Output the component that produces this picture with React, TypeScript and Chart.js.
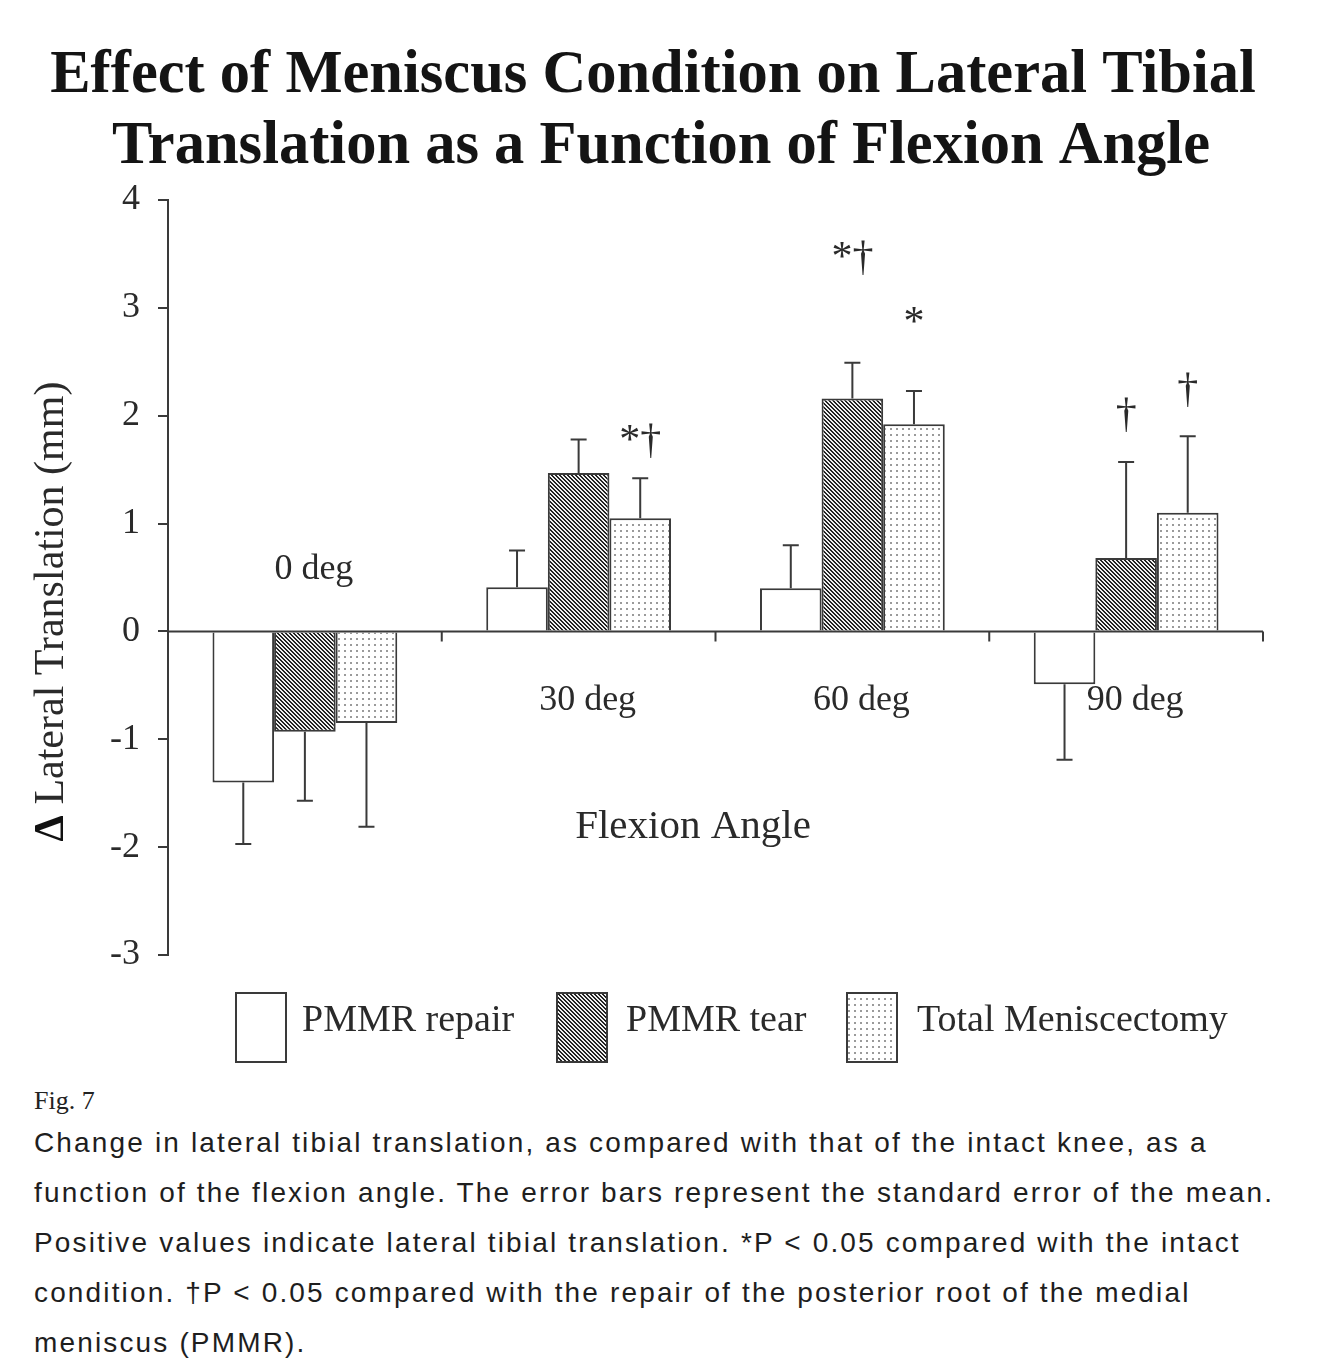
import React, { useEffect, useRef } from "react";
import { Chart, registerables } from "chart.js";

Chart.register(...registerables);

// ---------- data ----------
const CATEGORIES = ["0 deg", "30 deg", "60 deg", "90 deg"];
const SERIES_NAMES = ["PMMR repair", "PMMR tear", "Total Meniscectomy"];
const REPAIR = [-1.4, 0.41, 0.4, -0.49];
const TEAR = [-0.93, 1.47, 2.16, 0.68];
const TOTAL = [-0.85, 1.05, 1.92, 1.1];
const REPAIR_ERR = [0.57, 0.34, 0.4, 0.7];
const TEAR_ERR = [0.64, 0.31, 0.33, 0.89];
const TOTAL_ERR = [0.96, 0.37, 0.31, 0.71];
const Y_MIN = -3;
const Y_MAX = 4;
const Y_STEP = 1;
// significance marks: text, category index, series index, value (glyph centre)
const MARK_TEXT = ["*†", "*†", "*", "†", "†"];
const MARK_CATEGORY = [1, 2, 2, 3, 3];
const MARK_SERIES = [2, 1, 2, 1, 2];
const MARK_VALUE = [1.76, 3.45, 2.85, 2.0, 2.23];

const TITLE_LINES = [
  "Effect of Meniscus Condition on Lateral Tibial",
  "Translation as a Function of Flexion Angle",
];
const Y_TITLE_SYMBOL = "Δ";
const Y_TITLE = " Lateral Translation (mm)";
const X_TITLE = "Flexion Angle";
const FIG_LABEL = "Fig. 7";
const CAPTION_LINES = [
  "Change in lateral tibial translation, as compared with that of the intact knee, as a",
  "function of the flexion angle. The error bars represent the standard error of the mean.",
  "Positive values indicate lateral tibial translation. *P < 0.05 compared with the intact",
  "condition. †P < 0.05 compared with the repair of the posterior root of the medial",
  "meniscus (PMMR).",
];

const SERIF = '"Liberation Serif", "Times New Roman", serif';
const SANS = '"Liberation Sans", Arial, sans-serif';
const INK = "#2a2a2a";
const LINE = "#3a3a3a";

const W = 1323;
const H = 1080;

function makeHatch(ctx: CanvasRenderingContext2D): CanvasPattern {
  const c = document.createElement("canvas");
  c.width = 4;
  c.height = 4;
  const g = c.getContext("2d")!;
  const img = g.createImageData(4, 4);
  for (let y = 0; y < 4; y++) {
    for (let x = 0; x < 4; x++) {
      const on = (((x - y) % 4) + 4) % 4 < 2;
      const v = on ? 35 : 240;
      const k = (y * 4 + x) * 4;
      img.data[k] = v;
      img.data[k + 1] = v;
      img.data[k + 2] = v;
      img.data[k + 3] = 255;
    }
  }
  g.putImageData(img, 0, 0);
  return ctx.createPattern(c, "repeat")!;
}

function makeDots(ctx: CanvasRenderingContext2D): CanvasPattern {
  const c = document.createElement("canvas");
  c.width = 6;
  c.height = 6;
  const g = c.getContext("2d")!;
  g.fillStyle = "#ffffff";
  g.fillRect(0, 0, 6, 6);
  g.fillStyle = "#9a9a9a";
  g.fillRect(2, 2, 2, 2);
  return ctx.createPattern(c, "repeat")!;
}

export default function App() {
  const ref = useRef<HTMLCanvasElement | null>(null);

  useEffect(() => {
    const canvas = ref.current!;
    const ctx0 = canvas.getContext("2d")!;
    const hatch = makeHatch(ctx0);
    const dots = makeDots(ctx0);
    const fills = ["#ffffff", hatch, dots];
    const values = [REPAIR, TEAR, TOTAL];
    const errs = [REPAIR_ERR, TEAR_ERR, TOTAL_ERR];

    const decor = {
      id: "decor",
      afterDatasetsDraw(chart: any) {
        const ctx: CanvasRenderingContext2D = chart.ctx;
        const ys = chart.scales.y;
        const xs = chart.scales.x;
        const area = chart.chartArea;
        ctx.save();
        // error bars
        ctx.strokeStyle = LINE;
        ctx.lineWidth = 2;
        values.forEach((vals, di) => {
          const meta = chart.getDatasetMeta(di);
          meta.data.forEach((bar: any, i: number) => {
            const v = vals[i];
            const e = errs[di][i];
            const end = v >= 0 ? v + e : v - e;
            const y1 = ys.getPixelForValue(end);
            ctx.beginPath();
            ctx.moveTo(bar.x, bar.y);
            ctx.lineTo(bar.x, y1);
            ctx.moveTo(bar.x - 8, y1);
            ctx.lineTo(bar.x + 8, y1);
            ctx.stroke();
          });
        });
        // zero axis with category boundary ticks
        const y0 = ys.getPixelForValue(0);
        ctx.beginPath();
        ctx.moveTo(area.left, y0);
        ctx.lineTo(area.right, y0);
        const half = (xs.getPixelForValue(1) - xs.getPixelForValue(0)) / 2;
        for (let i = 0; i < CATEGORIES.length; i++) {
          const bx = xs.getPixelForValue(i) + half;
          ctx.moveTo(bx, y0);
          ctx.lineTo(bx, y0 + 10);
        }
        ctx.stroke();
        // category labels
        ctx.fillStyle = INK;
        ctx.font = `36px ${SERIF}`;
        ctx.textAlign = "center";
        ctx.textBaseline = "middle";
        CATEGORIES.forEach((c, i) => {
          const x = xs.getPixelForValue(i) + 9;
          const y = i === 0 ? y0 - 62 : y0 + 69;
          ctx.fillText(c, x, y);
        });
        // x title
        ctx.font = `41px ${SERIF}`;
        ctx.fillText(X_TITLE, area.left + 525, ys.getPixelForValue(-1.82));
        // significance marks
        ctx.font = `42px ${SERIF}`;
        MARK_TEXT.forEach((t, k) => {
          const bar = chart.getDatasetMeta(MARK_SERIES[k]).data[MARK_CATEGORY[k]];
          ctx.fillText(t, bar.x, ys.getPixelForValue(MARK_VALUE[k]));
        });
        ctx.restore();
      },
      afterDraw(chart: any) {
        const ctx: CanvasRenderingContext2D = chart.ctx;
        const area = chart.chartArea;
        ctx.save();
        // title
        ctx.fillStyle = "#141414";
        ctx.font = `bold 60.5px ${SERIF}`;
        ctx.textAlign = "center";
        ctx.textBaseline = "alphabetic";
        ctx.fillText(TITLE_LINES[0], 653, 92);
        ctx.fillText(TITLE_LINES[1], 661, 163);
        // y title (rotated)
        ctx.translate(52, (area.top + area.bottom) / 2 + 34);
        ctx.rotate(-Math.PI / 2);
        ctx.textAlign = "left";
        ctx.textBaseline = "middle";
        const fb = `bold 42px ${SERIF}`;
        const fn = `42px ${SERIF}`;
        ctx.font = fb;
        const w1 = ctx.measureText(Y_TITLE_SYMBOL).width;
        ctx.font = fn;
        const w2 = ctx.measureText(Y_TITLE).width;
        const sx = -(w1 + w2) / 2;
        ctx.fillStyle = "#111";
        ctx.font = fb;
        ctx.fillText(Y_TITLE_SYMBOL, sx, 0);
        ctx.fillStyle = INK;
        ctx.font = fn;
        ctx.fillText(Y_TITLE, sx + w1, 0);
        ctx.restore();

        // legend
        ctx.save();
        const boxX = [236, 557, 847];
        const boxY = 993;
        const boxW = 50;
        const boxH = 69;
        ctx.lineWidth = 2;
        ctx.strokeStyle = LINE;
        ctx.font = `38px ${SERIF}`;
        ctx.textAlign = "left";
        ctx.textBaseline = "alphabetic";
        const textX = [302, 626, 917];
        SERIES_NAMES.forEach((name, i) => {
          ctx.fillStyle = fills[i] as any;
          ctx.fillRect(boxX[i], boxY, boxW, boxH);
          ctx.strokeRect(boxX[i], boxY, boxW, boxH);
          ctx.fillStyle = INK;
          ctx.fillText(name, textX[i], 1031);
        });
        ctx.restore();
      },
    };

    const chart = new Chart(canvas, {
      type: "bar",
      data: {
        labels: CATEGORIES,
        datasets: SERIES_NAMES.map((name, i) => ({
          label: name,
          data: values[i],
          backgroundColor: fills[i] as any,
          borderColor: LINE,
          borderWidth: 2,
          categoryPercentage: 0.675,
          barPercentage: 1,
        })),
      },
      options: {
        responsive: false,
        animation: false,
        devicePixelRatio: 1,
        layout: { padding: { left: 0, right: 60, top: 200, bottom: H - 955 } },
        plugins: {
          legend: { display: false },
          title: { display: false },
          tooltip: { enabled: false },
        },
        scales: {
          x: { display: false, type: "category" },
          y: {
            min: Y_MIN,
            max: Y_MAX,
            afterFit: (s: any) => {
              s.width = 168;
            },
            ticks: {
              stepSize: Y_STEP,
              color: INK,
              padding: 18,
              font: { family: SERIF, size: 36 },
            },
            grid: {
              drawOnChartArea: false,
              drawTicks: true,
              tickLength: 10,
              color: LINE,
              lineWidth: 2,
            },
            border: { display: true, color: LINE, width: 2 },
          },
        },
      },
      plugins: [decor],
    });
    return () => chart.destroy();
  }, []);

  const capStyle: React.CSSProperties = {
    position: "absolute",
    left: 34,
    whiteSpace: "nowrap",
    fontFamily: SANS,
    fontSize: 28,
    letterSpacing: "2.15px",
    lineHeight: "50px",
    color: "#1e1e1e",
  };

  return (
    <div style={{ position: "absolute", left: 0, top: 0, width: W, height: 1371, background: "#fff" }}>
      <canvas ref={ref} width={W} height={H} style={{ display: "block", width: W, height: H }} />
      <div
        style={{
          position: "absolute",
          left: 34,
          top: 1084,
          fontFamily: SERIF,
          fontSize: 26,
          lineHeight: "34px",
          color: "#222",
        }}
      >
        {FIG_LABEL}
      </div>
      {CAPTION_LINES.map((t, i) => (
        <div key={i} style={{ ...capStyle, top: 1118 + i * 50 }}>
          {t}
        </div>
      ))}
    </div>
  );
}
